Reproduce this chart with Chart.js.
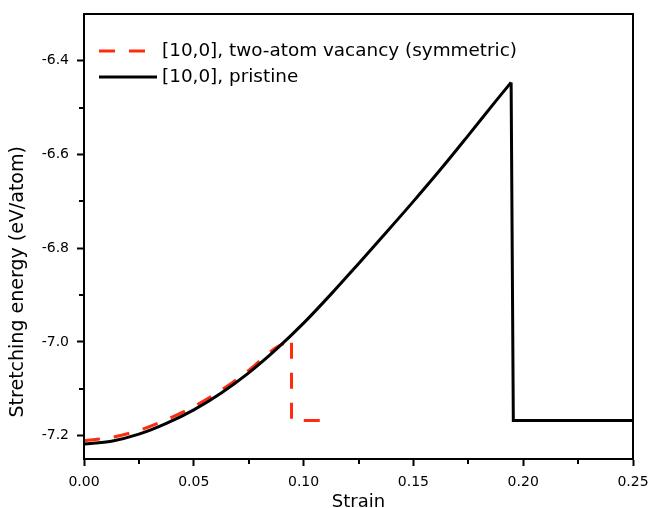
<!DOCTYPE html>
<html>
<head>
<meta charset="utf-8">
<script src="https://cdn.jsdelivr.net/npm/chart.js@4.4.0/dist/chart.umd.min.js"></script>
<style>
  html, body { margin: 0; padding: 0; background: #fff; }
</style>
</head>
<body>
<canvas id="strainChart" width="650" height="508"></canvas>
<script>
// values: strain vs stretching energy (eV/atom)
// smooth part up to the failure point, then the drop after it
const strainVacancy = [0, 0.0125, 0.025, 0.0375, 0.05, 0.0625, 0.075, 0.0875, 0.0935];
const energyVacancy = [-7.211, -7.204, -7.189, -7.166, -7.138, -7.103, -7.061, -7.012, -6.998];
const strainVacancyDrop = [0.0945, 0.0945, 0.1105];
const energyVacancyDrop = [-7.002, -7.168, -7.168];

const strainPristine = [0, 0.0125, 0.025, 0.0375, 0.05, 0.0625, 0.075, 0.0875, 0.1, 0.1125, 0.125, 0.1375, 0.15, 0.1625, 0.175, 0.1875, 0.1945];
const energyPristine = [-7.218, -7.212, -7.197, -7.174, -7.145, -7.109, -7.066, -7.016, -6.960, -6.898, -6.833, -6.767, -6.700, -6.631, -6.559, -6.486, -6.446];
const strainPristineDrop = [0.1945, 0.1955, 0.25];
const energyPristineDrop = [-6.446, -7.168, -7.168];

const seriesLabels = ['[10,0], two-atom vacancy (symmetric)', '[10,0], pristine'];

const xTicks = [0, 0.05, 0.10, 0.15, 0.20, 0.25];
const xMinor = [0.025, 0.075, 0.125, 0.175, 0.225];
const yTicks = [-7.2, -7.0, -6.8, -6.6, -6.4];
const yMinor = [-7.1, -6.9, -6.7, -6.5];

const toPoints = (xs, ys) => xs.map((x, i) => ({ x: x, y: ys[i] }));

// box frame, minor ticks and the in-plot legend
const frameAndLegend = {
  id: 'frameAndLegend',
  afterDraw(chart) {
    const { ctx, chartArea: a, scales: { x, y } } = chart;
    ctx.save();
    ctx.strokeStyle = '#000';
    ctx.lineWidth = 2;
    ctx.strokeRect(a.left, a.top, a.right - a.left, a.bottom - a.top);

    ctx.beginPath();
    xMinor.forEach(v => {
      const px = Math.round(x.getPixelForValue(v));
      ctx.moveTo(px, a.bottom);
      ctx.lineTo(px, a.bottom + 5);
    });
    yMinor.forEach(v => {
      const py = Math.round(y.getPixelForValue(v));
      ctx.moveTo(a.left, py);
      ctx.lineTo(a.left - 5, py);
    });
    ctx.stroke();

    ctx.font = '18.4px "DejaVu Sans"';
    ctx.textBaseline = 'middle';
    ctx.textAlign = 'left';
    seriesLabels.forEach((label, i) => {
      const ds = chart.data.datasets.find(d => d.label === label);
      const ly = a.top + 37 + i * 26;
      ctx.beginPath();
      ctx.strokeStyle = ds.borderColor;
      ctx.lineWidth = ds.borderWidth;
      ctx.setLineDash(ds.borderDash || []);
      ctx.moveTo(a.left + 15, ly);
      ctx.lineTo(a.left + 73, ly);
      ctx.stroke();
      ctx.setLineDash([]);
      ctx.fillStyle = '#000';
      ctx.fillText(label, a.left + 78, ly);
    });
    ctx.restore();
  }
};

const tickFont = { family: 'DejaVu Sans', size: 14 };
const red = '#ff2b0f';

new Chart(document.getElementById('strainChart'), {
  type: 'line',
  data: {
    datasets: [{
      label: seriesLabels[0],
      data: toPoints(strainVacancy, energyVacancy),
      borderColor: red,
      borderWidth: 3,
      borderDash: [16, 14],
      pointRadius: 0,
      cubicInterpolationMode: 'monotone',
      order: 2
    }, {
      label: seriesLabels[0] + ' drop',
      data: toPoints(strainVacancyDrop, energyVacancyDrop),
      borderColor: red,
      borderWidth: 3,
      borderDash: [16, 14],
      pointRadius: 0,
      order: 2
    }, {
      label: seriesLabels[1],
      data: toPoints(strainPristine, energyPristine),
      borderColor: '#000000',
      borderWidth: 3,
      pointRadius: 0,
      cubicInterpolationMode: 'monotone',
      order: 1
    }, {
      label: seriesLabels[1] + ' drop',
      data: toPoints(strainPristineDrop, energyPristineDrop),
      borderColor: '#000000',
      borderWidth: 3,
      borderJoinStyle: 'miter',
      pointRadius: 0,
      order: 1
    }]
  },
  options: {
    responsive: false,
    animation: false,
    layout: { padding: { top: 14, right: 17, left: 0, bottom: 0 } },
    plugins: {
      legend: { display: false },
      tooltip: { enabled: false }
    },
    scales: {
      x: {
        type: 'linear',
        min: 0,
        max: 0.25,
        afterBuildTicks: s => { s.ticks = xTicks.map(v => ({ value: v })); },
        afterFit: s => { s.height = 49; s.paddingLeft = 0; s.paddingRight = 0; },
        border: { color: '#000', width: 2 },
        grid: { drawOnChartArea: false, tickLength: 7, tickColor: '#000', tickWidth: 2 },
        ticks: { color: '#000', font: tickFont, padding: 8, maxRotation: 0, callback: v => v.toFixed(2) },
        title: {
          display: true,
          text: 'Strain',
          color: '#000',
          font: { family: 'DejaVu Sans', size: 18, lineHeight: 1 },
          padding: { top: 0, bottom: -3 }
        }
      },
      y: {
        type: 'linear',
        min: -7.25,
        max: -6.3,
        afterBuildTicks: s => { s.ticks = yTicks.map(v => ({ value: v })); },
        afterFit: s => { s.width = 84; s.paddingTop = 0; s.paddingBottom = 0; },
        border: { color: '#000', width: 2 },
        grid: { drawOnChartArea: false, tickLength: 7, tickColor: '#000', tickWidth: 2 },
        ticks: { color: '#000', font: tickFont, padding: 8, callback: v => v.toFixed(1) },
        title: {
          display: true,
          // trailing spaces push the centred title down like in the figure
          text: 'Stretching energy (eV/atom)' + ' '.repeat(15),
          color: '#000',
          font: { family: 'DejaVu Sans', size: 19, lineHeight: 1 },
          padding: { top: 9, bottom: 0 }
        }
      }
    }
  },
  plugins: [frameAndLegend]
});
</script>
</body>
</html>
